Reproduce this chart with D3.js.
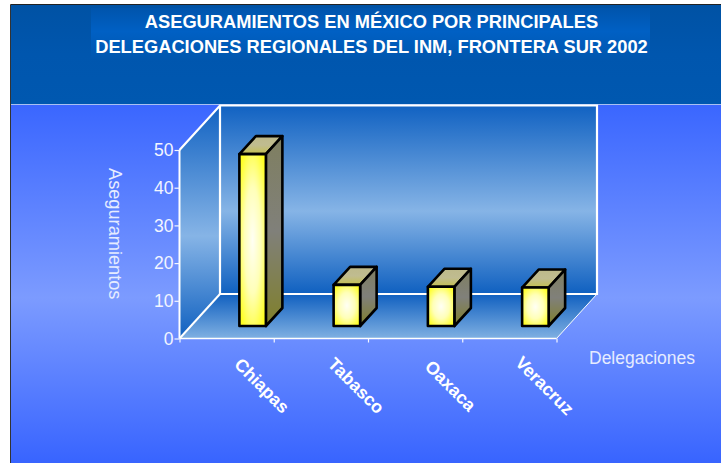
<!DOCTYPE html>
<html><head><meta charset="utf-8">
<script src="https://cdn.jsdelivr.net/npm/d3@7"></script>
<style>html,body{margin:0;padding:0;background:#fff;overflow:hidden}svg{display:block}text{font-family:"Liberation Sans",Arial,sans-serif}</style>
</head><body><svg id="c" width="721" height="463"></svg>
<script>
const categories = ["Chiapas","Tabasco","Oaxaca","Veracruz"];
const aseguramientos = [45.6, 10.9, 10.4, 10.2];
const yTicks = [0,10,20,30,40,50];
const titleLines = ["ASEGURAMIENTOS EN MÉXICO POR PRINCIPALES","DELEGACIONES REGIONALES DEL INM, FRONTERA SUR 2002"];
const yTitle = "Aseguramientos", xTitle = "Delegaciones";

const svg = d3.select("#c");
const defs = svg.append("defs");
function lin(id, stops, o={x1:0,y1:0,x2:0,y2:1}){
  const g = defs.append("linearGradient").attr("id",id).attr("x1",o.x1).attr("y1",o.y1).attr("x2",o.x2).attr("y2",o.y2);
  stops.forEach(([p,c])=>g.append("stop").attr("offset",p).attr("stop-color",c));
}
lin("bg",[[0,"#3a66ff"],[0.54,"#7c9bff"],[1,"#3864ff"]]);
lin("head",[[0,"#0052a4"],[0.5,"#0056ae"],[1,"#0058b0"]]);
lin("tbox",[[0,"#0054ac"],[0.45,"#0060c4"],[1,"#0056ae"]]);
lin("wall",[[0,"#1162c2"],[0.56,"#86b4e6"],[1,"#0f60c0"]]);
lin("floor",[[0,"#1060c0"],[1,"#80b0e2"]]);
lin("top",[[0,"#bdb98a"],[0.5,"#c0bc90"],[1,"#c4c050"]]);
lin("side",[[0,"#7f7f60"],[0.5,"#80807a"],[1,"#80802a"]]);
const rg = defs.append("radialGradient").attr("id","front").attr("cx",0.5).attr("cy",0.5).attr("r",0.62);
rg.append("stop").attr("offset",0).attr("stop-color","#fffff4");
rg.append("stop").attr("offset",0.5).attr("stop-color","#ffffb8");
rg.append("stop").attr("offset",1).attr("stop-color","#ffff20");

// page panels
svg.append("rect").attr("x",10.5).attr("y",104).attr("width",711).attr("height",359).attr("fill","url(#bg)");
svg.append("rect").attr("x",10.5).attr("y",5).attr("width",711).attr("height",99).attr("fill","url(#head)");
svg.append("rect").attr("x",91).attr("y",8).attr("width",559).attr("height",52).attr("fill","url(#tbox)");
svg.append("line").attr("x1",10.5).attr("x2",721).attr("y1",4.5).attr("y2",4.5).attr("stroke","#222");
svg.append("line").attr("x1",10.5).attr("x2",10.5).attr("y1",4.5).attr("y2",463).attr("stroke","#333");
svg.append("line").attr("x1",11).attr("x2",721).attr("y1",104.5).attr("y2",104.5).attr("stroke","#a9c0f2");

const x = d3.scaleBand().domain(categories).range([179.5,556.5]);
const y = d3.scaleLinear().domain([0,50]).range([338.5,150]);
const dx = 40.5, dy = -44.5;
const L = x.range()[0], R = x.range()[1], B = y(0), T = y(50);
const poly = pts => pts.map(p=>p.join(",")).join(" ");

// walls
svg.append("polygon").attr("points",poly([[L+dx,T+dy],[R+dx,T+dy],[R+dx,B+dy],[L+dx,B+dy]])).attr("fill","url(#wall)");
svg.append("polygon").attr("points",poly([[L,T],[L+dx,T+dy],[L+dx,B+dy],[L,B]])).attr("fill","url(#wall)");
svg.append("polygon").attr("points",poly([[L,B],[L+dx,B+dy],[R+dx,B+dy],[R,B]])).attr("fill","url(#floor)");
const edge = (pts,w)=>svg.append("polyline").attr("points",poly(pts)).attr("fill","none").attr("stroke","#fff").attr("stroke-width",w);
edge([[L,T],[L+dx,T+dy],[R+dx,T+dy],[R+dx,B+dy],[L+dx,B+dy],[L+dx,T+dy]],2.2);
edge([[L,B],[L+dx,B+dy]],2);
edge([[R,B],[R+dx,B+dy]],1);

// axes
const gy = svg.append("g").attr("transform",`translate(${L},0)`).call(d3.axisLeft(y).tickValues(yTicks).tickSize(5).tickPadding(1));
gy.select(".domain").attr("stroke","#fff").attr("stroke-width",2).attr("d",`M0,${T}V${B}`);
gy.selectAll(".tick line").attr("stroke","#f4f6ff").attr("stroke-width",1.2);
gy.selectAll("text").attr("fill","#f2f5ff").attr("font-size",17.5).style("font-family",'"Liberation Sans"');

const edges = categories.map(c=>x(c)).concat([R]);
const gx = svg.append("g").attr("transform",`translate(0,${B})`);
gx.call(d3.axisBottom(d3.scaleLinear().domain([L,R]).range([L,R])).tickValues(edges).tickSize(4).tickFormat(""));
gx.select(".domain").attr("stroke","#fff").attr("stroke-width",1.4).attr("d",`M${L},0H${R}`);
gx.selectAll(".tick line").attr("stroke","#f4f6ff").attr("stroke-width",1.2);

// bars
const bw = 26.5, lift = 12.5, bdx = 16.5, bdy = 18;
const bars = svg.append("g").selectAll("g").data(categories.map((c,i)=>({c,v:aseguramientos[i]}))).join("g")
 .attr("stroke","#000").attr("stroke-width",2.6).attr("stroke-linejoin","round");
bars.each(function(d){
  const g = d3.select(this);
  const x0 = x(d.c)+x.bandwidth()/2 - bw/2 + 26, x1 = x0+bw, yb = y(0)-lift, yt = y(d.v)-lift;
  g.append("polygon").attr("points",poly([[x0,yt],[x0+bdx,yt-bdy],[x1+bdx,yt-bdy],[x1,yt]])).attr("fill","url(#top)");
  g.append("polygon").attr("points",poly([[x1,yt],[x1+bdx,yt-bdy],[x1+bdx,yb-bdy],[x1,yb]])).attr("fill","url(#side)");
  g.append("rect").attr("x",x0).attr("y",yt).attr("width",bw).attr("height",yb-yt).attr("fill","url(#front)");
});

// category labels, centred on a point below each band
svg.append("g").selectAll("text").data(categories).join("text")
 .attr("transform",c=>`translate(${x(c)+x.bandwidth()/2+31},390) rotate(45)`)
 .attr("fill","#fff").attr("font-size",17.8).attr("font-weight","bold").attr("text-anchor","middle").attr("stroke","none")
 .text(c=>c);

// titles
svg.append("g").selectAll("text").data(titleLines).join("text")
 .attr("x",371.5).attr("y",(d,i)=>28+i*25).attr("text-anchor","middle").attr("fill","#fff")
 .attr("font-size",18.3).attr("font-weight","bold").text(d=>d);
svg.append("text").attr("transform","translate(108.5,168) rotate(90)").attr("fill","#e6ecff").attr("font-size",18.2).text(yTitle);
svg.append("text").attr("x",589).attr("y",364).attr("fill","#e6ecff").attr("font-size",17.5).text(xTitle);
</script></body></html>
